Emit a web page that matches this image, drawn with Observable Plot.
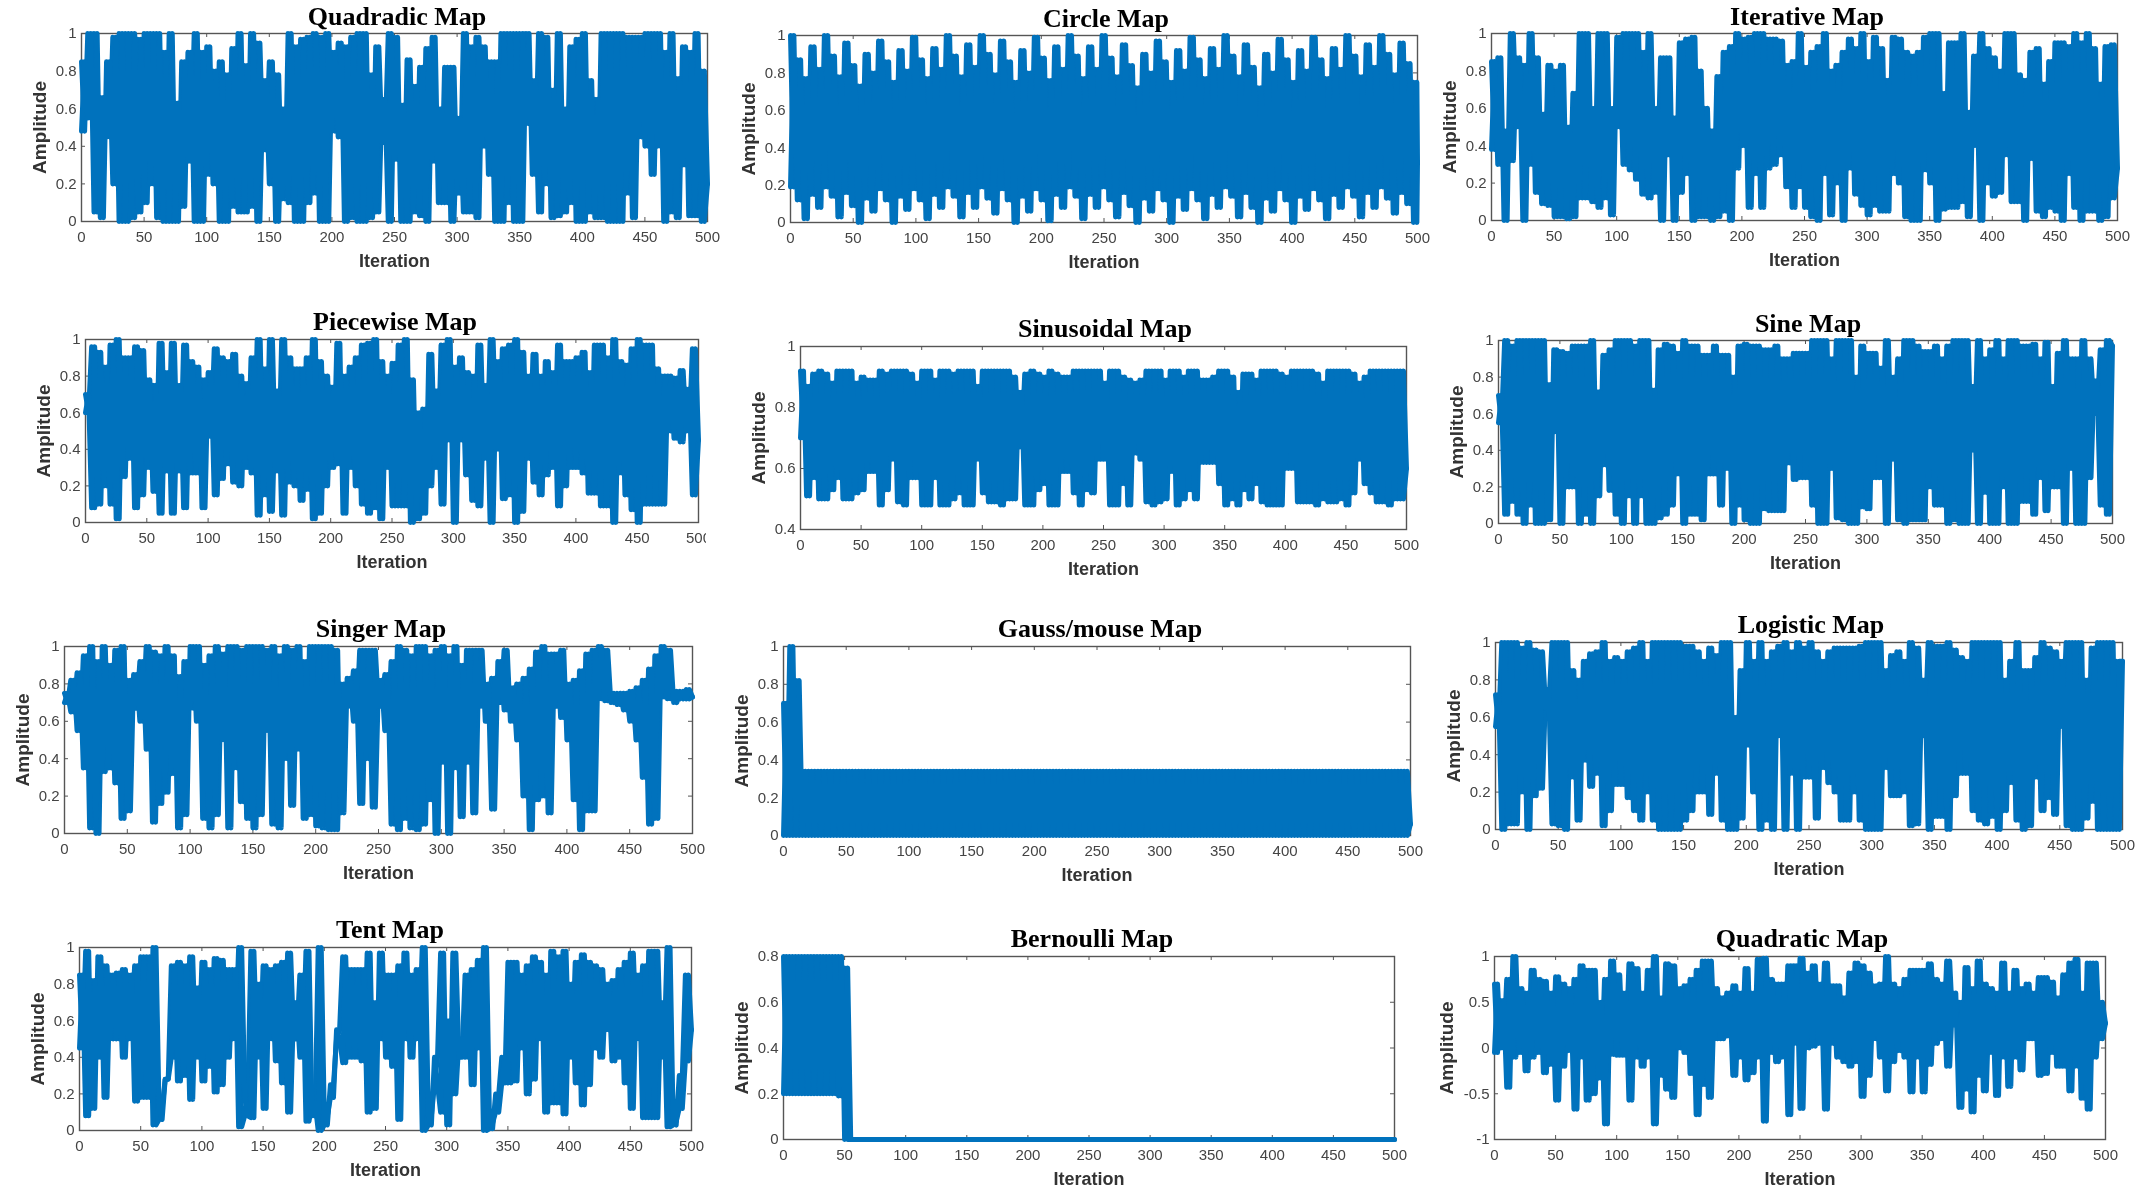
<!DOCTYPE html>
<html>
<head>
<meta charset="utf-8">
<script src="https://cdn.jsdelivr.net/npm/d3@7"></script>
<script src="https://cdn.jsdelivr.net/npm/@observablehq/plot@0.6"></script>
<style>
html,body{margin:0;padding:0;background:#fff;overflow:hidden}
#page{position:relative;width:2141px;height:1195px;background:#fff;filter:blur(0.7px)}
.ttl{position:absolute;transform:translateX(-50%);font:bold 26px/26px "Liberation Serif",serif;color:#000;white-space:nowrap}
#page svg{position:absolute;background:transparent;max-width:none}
</style>
</head>
<body>
<div id="page"></div>
<script>
const xTicks=[0,50,100,150,200,250,300,350,400,450,500];
const unitTicks=[0,0.2,0.4,0.6,0.8,1];
const sinTicks=[0.4,0.6,0.8,1];
const berTicks=[0,0.2,0.4,0.6,0.8];
const quaTicks=[-1,-0.5,0,0.5,1];

// Peaks and troughs of each trace, in hundredths of amplitude.
const quadradicTops=[85,100,100,66,85,98,100,100,100,97,
100,100,100,90,100,63,85,90,100,90,
93,80,85,78,92,100,83,100,95,75,
85,78,60,100,93,97,98,100,98,100,
90,95,93,98,100,100,78,93,65,100,
98,62,86,72,82,92,98,60,82,82,
55,100,93,98,93,85,85,100,100,100,
100,100,75,100,98,70,100,60,93,97,
100,75,65,100,100,100,100,98,98,98,
100,100,100,90,100,76,93,90,100,80];
const quadradicBots=[48,55,5,2,45,20,0,0,2,5,
10,20,2,0,0,0,8,32,0,0,
25,20,0,0,8,5,5,8,0,38,
20,0,12,10,0,0,10,15,0,0,
48,45,0,2,0,0,2,5,42,0,
33,0,0,5,3,0,32,10,10,0,
15,5,5,2,40,25,0,0,10,0,
0,52,25,5,20,2,3,5,10,0,
0,5,2,2,0,0,0,15,2,45,
40,25,40,0,5,2,30,3,3,0];

const circleTops=[100,87,77,94,82,100,89,78,96,84,
73,90,80,97,86,75,92,81,99,87,
77,93,82,100,89,78,95,83,100,90,
79,97,86,75,92,80,99,88,76,94,
82,100,89,77,94,82,100,88,78,95,
84,72,90,80,97,86,75,92,81,99,
87,77,93,82,100,89,78,95,83,72,
90,80,98,87,75,92,81,99,87,77,
93,82,100,89,78,95,83,100,90,79,96,85,75];
const circleBots=[19,12,2,15,8,19,14,3,16,9,
0,13,6,18,12,0,14,7,18,12,
2,15,8,19,14,3,16,8,19,13,
5,18,12,0,14,6,18,12,1,15,
8,19,14,2,15,8,19,12,3,16,
9,0,13,6,18,12,0,14,7,18,
12,2,15,8,19,14,3,16,8,0,
13,6,18,12,0,14,7,18,12,2,
15,8,19,14,3,16,8,19,13,5,16,10,0];

const iterativeTops=[85,87,48,100,87,83,100,87,57,83,
80,83,50,68,100,100,60,100,100,60,
98,100,100,100,90,100,60,87,87,55,
95,97,98,80,60,48,77,90,93,100,
97,98,100,100,97,97,96,83,85,100,
82,90,93,100,80,83,90,97,92,100,
85,98,92,75,98,97,90,88,90,98,
100,100,68,95,95,100,58,88,100,92,
87,80,100,100,78,75,90,92,73,85,
95,95,93,100,95,100,92,73,93,94];
const iterativeBots=[38,30,0,32,50,0,30,15,9,8,
2,2,1,2,12,12,10,7,12,3,
50,30,27,22,14,12,15,0,35,0,
15,25,0,2,2,0,2,5,0,28,
40,7,25,7,28,30,35,18,7,18,
7,2,0,25,3,20,0,28,14,8,
3,8,5,5,25,20,2,0,0,27,
20,0,6,7,7,10,2,40,0,20,
13,15,35,10,10,0,33,5,2,7,
5,0,25,7,0,5,5,0,2,12];

const piecewiseTops=[70,96,93,85,97,100,90,90,96,94,
78,75,98,82,98,75,97,88,85,78,
82,95,90,88,92,80,76,90,100,84,
100,72,100,90,84,84,90,100,88,80,
74,98,80,85,90,97,98,100,88,80,
87,97,100,78,60,62,92,72,97,100,
85,90,82,80,97,75,100,88,95,97,
100,93,80,92,80,88,82,97,88,88,
90,93,82,97,97,90,100,88,86,95,
100,97,97,84,80,80,79,83,73,95];
const piecewiseBots=[60,8,10,20,10,2,25,35,8,15,
30,17,5,28,5,28,8,27,27,8,
47,15,24,32,22,20,30,27,4,15,
6,28,4,22,20,12,18,2,5,20,
30,32,5,30,20,10,5,8,2,30,
9,9,9,0,2,5,20,30,10,45,
0,45,26,12,9,35,0,40,13,15,
0,6,35,22,15,26,30,9,20,30,
30,27,16,16,9,9,0,27,15,7,
0,10,10,10,10,50,46,44,50,15];

const sinusoidalTops=[92,87,91,92,91,88,92,92,92,88,
90,89,89,92,91,92,92,92,91,88,
92,92,89,92,92,91,92,92,92,87,
92,92,92,92,92,90,85,91,92,91,
90,92,91,90,90,92,92,92,92,92,
88,92,92,90,89,88,89,92,92,92,
89,92,92,90,92,92,89,89,90,92,
92,90,85,91,91,89,92,92,92,91,
90,92,92,92,92,91,88,92,92,92,
92,91,88,90,92,92,92,92,92,92];
const sinusoidalBots=[70,51,57,50,50,53,57,50,50,52,
53,59,59,48,53,63,49,48,57,57,
48,48,57,48,48,50,52,48,48,63,
52,49,49,48,50,50,67,48,48,53,
55,48,48,59,59,52,48,53,52,63,
63,48,48,55,48,65,63,49,48,49,
50,59,48,50,53,50,62,62,62,55,
48,50,48,53,50,55,49,48,48,48,
60,60,49,49,49,48,50,49,49,50,
48,52,63,55,52,49,49,48,50,50];

const sineTops=[70,100,97,100,100,100,100,100,76,95,
94,93,97,97,97,100,72,92,95,100,
100,100,97,100,100,73,95,98,97,93,
100,97,97,92,92,97,92,92,80,97,
98,97,97,95,95,97,90,90,93,93,
93,100,100,100,90,100,100,100,80,97,
93,93,85,100,80,90,100,100,97,94,
94,97,90,97,100,100,100,75,100,90,
95,100,90,100,100,97,97,98,90,99,
75,93,100,90,90,100,90,78,95,100];
const sineBots=[55,5,12,5,0,10,0,0,2,50,
0,20,20,0,5,0,15,32,18,5,
0,15,0,15,0,0,3,5,10,27,
0,5,5,2,27,27,10,30,0,10,
2,0,0,8,7,7,7,33,24,25,
25,10,0,0,30,3,2,0,0,9,
8,25,25,0,35,2,0,2,2,2,
20,10,10,0,2,0,0,40,0,17,
0,0,20,0,0,12,12,5,25,7,
20,20,0,30,0,0,25,60,10,5];

const singerTops=[75,82,86,95,100,92,100,90,98,100,
82,85,92,100,97,95,100,95,84,92,
100,100,90,95,100,96,100,100,98,100,
100,100,98,100,95,100,98,100,92,100,
100,100,100,98,80,83,87,98,98,98,
82,85,92,100,98,95,100,100,95,98,
100,95,100,90,98,98,98,80,83,92,
98,78,80,83,88,97,100,96,96,98,
80,82,87,96,98,100,98,75,75,75,
76,78,82,88,95,100,98,76,76,77];
const singerBots=[70,65,55,35,3,0,33,35,27,8,
12,67,60,45,6,16,22,32,3,10,
67,60,8,3,10,50,3,35,17,8,
3,10,55,5,3,40,15,45,8,10,
4,3,2,2,11,68,60,16,40,14,
68,55,5,2,8,3,2,5,18,0,
38,0,35,9,38,11,68,60,13,70,
66,60,50,20,2,18,20,11,68,62,
50,18,2,12,12,72,71,70,69,66,
60,50,30,5,8,73,72,70,72,72];

const gaussTops=[70,100,82,34,34,34,34,34,34,34,
34,34,34,34,34,34,34,34,34,34,
34,34,34,34,34,34,34,34,34,34,
34,34,34,34,34,34,34,34,34,34,
34,34,34,34,34,34,34,34,34,34,
34,34,34,34,34,34,34,34,34,34,
34,34,34,34,34,34,34,34,34,34,
34,34,34,34,34,34,34,34,34,34,
34,34,34,34,34,34,34,34,34,34,
34,34,34,34,34,34,34,34,34,34];
const gaussBots=[0,0,0,0,0,0,0,0,0,0,
0,0,0,0,0,0,0,0,0,0,
0,0,0,0,0,0,0,0,0,0,
0,0,0,0,0,0,0,0,0,0,
0,0,0,0,0,0,0,0,0,0,
0,0,0,0,0,0,0,0,0,0,
0,0,0,0,0,0,0,0,0,0,
0,0,0,0,0,0,0,0,0,0,
0,0,0,0,0,0,0,0,0,0,
0,0,0,0,0,0,0,0,0,0];

const logisticTops=[72,100,100,100,97,100,96,95,75,100,
100,100,85,80,90,94,95,100,90,92,
90,95,97,100,90,100,100,100,100,100,
98,98,95,90,97,93,100,100,60,85,
100,90,100,90,95,98,100,95,100,97,
100,95,90,95,97,97,97,97,98,100,
100,100,85,93,95,90,100,97,80,100,
98,98,100,96,92,90,100,100,100,100,
100,80,90,100,85,85,92,100,97,95,
90,100,100,100,80,97,100,100,100,90];
const logisticBots=[55,0,3,3,20,0,18,22,65,3,
2,0,28,5,37,23,30,2,10,24,
24,17,10,5,20,5,0,0,0,0,
5,10,20,20,8,30,5,0,0,6,
45,20,0,5,0,50,0,30,0,28,
28,6,33,25,20,5,5,20,5,0,
0,0,33,18,18,20,2,3,50,0,
7,7,0,18,30,30,10,5,3,7,
0,10,25,5,0,2,28,10,17,8,
55,2,0,0,6,15,0,0,0,0];

const tentTops=[85,98,82,95,90,85,86,88,85,90,
95,95,100,6,28,90,92,90,95,78,
92,88,94,93,88,88,100,8,98,80,
90,88,90,92,97,70,85,98,15,100,
3,18,50,95,88,88,88,97,70,97,
85,85,90,97,85,88,100,3,25,97,
60,97,50,85,88,93,100,1,10,40,
92,92,85,90,95,92,85,98,95,98,
80,92,96,92,90,88,80,82,88,92,
97,85,90,98,98,70,100,3,12,85];
const tentBots=[45,8,12,40,18,50,50,40,50,16,
18,18,3,12,28,40,27,30,17,40,
27,35,21,25,40,50,2,18,7,40,
12,50,38,26,10,50,40,5,8,0,
8,25,55,37,40,40,38,10,12,50,
40,35,6,50,40,50,0,8,40,10,
3,20,40,40,25,45,0,4,20,26,
26,27,45,20,28,50,10,15,15,9,
40,26,14,25,45,40,55,38,40,26,
12,50,7,7,7,40,2,5,30,38];

const bernoulliTops=[80,80,80,80,80,80,80,80,80,80,
75,0,0,0,0,0,0,0,0,0,
0,0,0,0,0,0,0,0,0,0,
0,0,0,0,0,0,0,0,0,0,
0,0,0,0,0,0,0,0,0,0,
0,0,0,0,0,0,0,0,0,0,
0,0,0,0,0,0,0,0,0,0,
0,0,0,0,0,0,0,0,0,0,
0,0,0,0,0,0,0,0,0,0,
0,0,0,0,0,0,0,0,0,0];
const bernoulliBots=[20,20,20,20,20,20,20,20,20,19,
0,0,0,0,0,0,0,0,0,0,
0,0,0,0,0,0,0,0,0,0,
0,0,0,0,0,0,0,0,0,0,
0,0,0,0,0,0,0,0,0,0,
0,0,0,0,0,0,0,0,0,0,
0,0,0,0,0,0,0,0,0,0,
0,0,0,0,0,0,0,0,0,0,
0,0,0,0,0,0,0,0,0,0,
0,0,0,0,0,0,0,0,0,0];

const quadraticTops=[70,52,75,100,65,60,85,75,73,60,
78,70,65,75,90,85,85,50,75,95,
80,60,92,87,60,85,100,55,92,90,
65,68,75,85,95,95,65,55,60,68,
60,87,60,97,98,75,70,70,90,90,
98,82,90,70,93,68,68,55,82,93,
90,82,68,70,100,70,65,75,85,85,
85,92,75,70,95,60,50,88,65,95,
70,65,60,93,60,85,65,70,60,77,
77,72,55,80,93,97,60,93,93,50];
const quadraticBots=[-5,0,-43,-10,-5,-25,-10,-5,-27,-18,
-57,-20,-3,-67,-10,-57,-50,-33,-83,-7,
-8,-8,-57,-10,-20,-10,-83,-30,-45,-54,
0,-5,-28,-73,-40,-54,10,10,13,-30,
-10,-35,-27,-10,-80,-5,-15,-10,-73,5,
-66,0,2,5,-67,5,-10,-15,-20,-15,
-53,-30,10,-10,-47,-15,-3,-10,-48,-10,
-48,-18,5,10,-20,25,-65,-45,-70,-30,
-47,-5,-52,-10,-42,-10,-24,10,10,-30,
-28,-5,-20,-20,-47,-20,-55,-67,-10,10];

const titles=["Quadradic Map","Circle Map","Iterative Map","Piecewise Map","Sinusoidal Map","Sine Map","Singer Map","Gauss/mouse Map","Logistic Map","Tent Map","Bernoulli Map","Quadratic Map"];

const panels=[
 {tops:quadradicTops,bots:quadradicBots,last:20,step:5,yT:unitTicks,L:81,R:707,T:33,B:221,tx:397,ty:26},
 {tops:circleTops,bots:circleBots,last:32,step:5.4,yT:unitTicks,L:790,R:1417,T:35,B:222,tx:1106,ty:28},
 {tops:iterativeTops,bots:iterativeBots,last:28,step:5,yT:unitTicks,L:1491,R:2117,T:33,B:220,tx:1807,ty:26},
 {tops:piecewiseTops,bots:piecewiseBots,last:45,step:5,yT:unitTicks,L:85,R:698,T:339,B:522,tx:395,ty:331,mR:8},
 {tops:sinusoidalTops,bots:sinusoidalBots,last:60,step:5,yT:sinTicks,L:800,R:1406,T:346,B:529,tx:1105,ty:338},
 {tops:sineTops,bots:sineBots,last:97,step:5,yT:unitTicks,L:1498,R:2112,T:340,B:523,tx:1808,ty:333},
 {tops:singerTops,bots:singerBots,last:73,step:5,yT:unitTicks,L:64,R:692,T:646,B:833,tx:381,ty:638},
 {tops:gaussTops,bots:gaussBots,last:6,step:5,yT:unitTicks,L:783,R:1410,T:646,B:835,tx:1100,ty:638},
 {tops:logisticTops,bots:logisticBots,last:90,step:5,yT:unitTicks,L:1495,R:2122,T:642,B:829,tx:1811,ty:634},
 {tops:tentTops,bots:tentBots,last:55,step:5,yT:unitTicks,L:79,R:691,T:947,B:1130,tx:390,ty:939},
 {tops:bernoulliTops,bots:bernoulliBots,last:0,step:5,yT:berTicks,L:783,R:1394,T:956,B:1139,tx:1092,ty:948},
 {tops:quadraticTops,bots:quadraticBots,last:27,step:5,yT:quaTicks,L:1494,R:2105,T:956,B:1139,tx:1802,ty:948,labelDx:-48}
];

const page=document.getElementById("page");
const blue="#0072BD", frame="#555555", ink="#444444";

panels.forEach((p,idx)=>{
  // The trace swings between each peak and trough; the second pass runs in opposite phase,
  // so the dense oscillation closes up solid as it does in the reference.
  const passA=[], passB=[];
  p.tops.forEach((v,i)=>{
    passA.push({x:i*p.step,y:v/100});
    passA.push({x:(i+0.5)*p.step,y:p.bots[i]/100});
    passB.push({x:i*p.step,y:p.bots[i]/100});
    passB.push({x:(i+0.5)*p.step,y:v/100});
  });
  passA.push({x:500,y:p.last/100});
  passB.push({x:500,y:p.last/100});
  const mL=60,mT=14,mB=56,mR=p.mR??22;
  const ymin=p.yT[0],ymax=p.yT[p.yT.length-1];
  const h=p.B-p.T, w=p.R-p.L;
  const dy=(ymax-ymin)*4/h, dx=500*4/w;
  const lineOpts={x:"x",y:"y",stroke:blue,strokeWidth:5,strokeLinejoin:"round",curve:"linear"};
  const svg=Plot.plot({
    width:w+mL+mR,height:h+mT+mB,
    marginLeft:mL,marginRight:mR,marginTop:mT,marginBottom:mB,
    x:{domain:[0,500],axis:null},
    y:{domain:[ymin,ymax],axis:null},
    style:{fontFamily:'"Liberation Sans",Arial,sans-serif',background:"transparent"},
    marks:[
      Plot.ruleX(xTicks,{x:d=>d,y1:ymin,y2:ymin+dy,stroke:frame,strokeWidth:1}),
      Plot.ruleX(xTicks,{x:d=>d,y1:ymax,y2:ymax-dy,stroke:frame,strokeWidth:1}),
      Plot.ruleY(p.yT,{y:d=>d,x1:0,x2:dx,stroke:frame,strokeWidth:1}),
      Plot.ruleY(p.yT,{y:d=>d,x1:500,x2:500-dx,stroke:frame,strokeWidth:1}),
      Plot.frame({stroke:frame,strokeWidth:1.4}),
      Plot.line(passA,lineOpts),
      Plot.line(passB,lineOpts),
      Plot.axisX({ticks:xTicks,tickSize:0,tickPadding:10,tickFormat:d=>String(d),fontSize:15,label:null,color:ink}),
      Plot.axisY({ticks:p.yT,tickSize:0,tickPadding:5,tickFormat:d=>String(d),fontSize:15,label:null,color:ink}),
      Plot.text(["Iteration"],{frameAnchor:"bottom",dy:45,text:d=>d,fontSize:18,fontWeight:"bold",fill:"#333"}),
      Plot.text(["Amplitude"],{frameAnchor:"left",dx:p.labelDx??-42,rotate:-90,textAnchor:"middle",text:d=>d,fontSize:19,fontWeight:"bold",fill:"#333"})
    ]
  });
  svg.style.left=(p.L-mL)+"px";
  svg.style.top=(p.T-mT)+"px";
  page.appendChild(svg);
  const t=document.createElement("div");
  t.className="ttl";
  t.textContent=titles[idx];
  t.style.left=p.tx+"px";
  t.style.top=(p.ty-22)+"px";
  page.appendChild(t);
});
</script>
</body>
</html>
